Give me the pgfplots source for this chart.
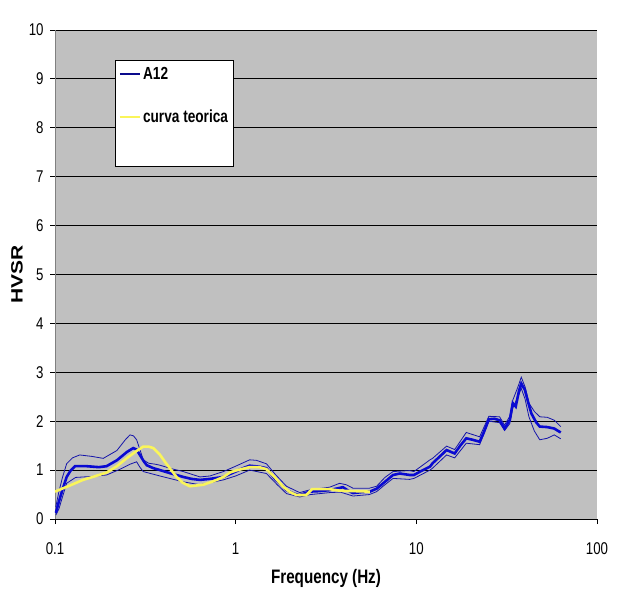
\documentclass[border=0pt]{standalone}
\usepackage{fontspec}
\setmainfont{Liberation Sans}[FakeStretch=0.78]
\newfontfamily\ylabfont{Liberation Sans}[FakeStretch=1.28]
\usepackage{pgfplots}
\pgfplotsset{compat=1.18}
\definecolor{plotbg}{RGB}{192,192,192}
\definecolor{mainblue}{RGB}{10,10,210}
\definecolor{thinblue}{RGB}{20,20,170}
\definecolor{legblue}{RGB}{10,10,140}
\definecolor{teoyel}{RGB}{250,245,90}
\begin{document}
\begin{tikzpicture}
\begin{axis}[
  scale only axis, width=542bp, height=489bp,
  xmode=log, xmin=0.1, xmax=100, ymin=0, ymax=10,
  xtick={0.1,1,10,100}, xticklabels={0.1,1,10,100},
  ytick={0,1,...,10},
  xminorticks=false,
  axis x line*=bottom, axis y line*=left,
  x axis line style={black, line width=0.8bp, -},
  y axis line style={gray, line width=0.8bp, -},
  axis background/.style={fill=plotbg},
  ymajorgrids, grid style={black, line width=0.9bp},
  tick align=outside, major tick length=5bp,
  tick style={black, line width=0.8bp},
  /pgf/number format/assume math mode=true,
  ticklabel style={font=\fontsize{17bp}{19bp}\selectfont},
  xticklabel style={yshift=-15bp},
  yticklabel style={xshift=-3bp},
  xlabel={Frequency (Hz)}, ylabel={HVSR},
  xlabel style={font=\bfseries\fontsize{19.5bp}{23bp}\selectfont, at={(axis description cs:0.5,-0.121)}, anchor=center},
  ylabel style={font=\ylabfont\bfseries\fontsize{16.4bp}{20bp}\selectfont, at={(axis description cs:-0.070,0.5)}, anchor=center},
  legend style={at={(axis description cs:0.111,0.939)}, anchor=north west,
    draw=black, line width=0.8bp, fill=white, font=\bfseries\fontsize{17.5bp}{20bp}\selectfont,
    row sep=25bp, inner xsep=3bp, inner ysep=5bp, nodes={inner sep=2bp}},
  legend cell align=left,
  legend image code/.code={\draw[#1] (0bp,0bp) -- (20bp,0bp);},
]
\addlegendimage{legblue, line width=2.5bp}
\addlegendentry{A12}
\addlegendimage{teoyel, line width=2.5bp}
\addlegendentry{curva teorica}
\addlegendimage{empty legend}
\addlegendentry{\rule{0pt}{5bp}}

% upper thin
\addplot[thinblue, line width=0.8bp, forget plot] table {
0.101 0.25
0.105 0.55
0.11 0.85
0.116 1.13
0.125 1.25
0.137 1.31
0.16 1.28
0.185 1.24
0.22 1.40
0.245 1.62
0.26 1.72
0.272 1.70
0.283 1.62
0.295 1.42
0.308 1.21
0.33 1.14
0.36 1.12
0.381 1.10
0.44 1.03
0.513 0.97
0.635 0.86
0.72 0.88
0.855 0.97
1.0 1.08
1.195 1.21
1.3 1.20
1.48 1.13
1.65 0.92
1.91 0.67
2.26 0.54
2.6 0.60
3.31 0.65
3.76 0.73
4.1 0.70
4.46 0.63
5.5 0.63
6.03 0.67
6.7 0.85
7.43 0.97
9.18 0.99
9.7 0.97
11.9 1.21
12.3 1.24
14.7 1.49
16.3 1.42
18.9 1.77
22.4 1.68
25.2 2.10
28.9 2.09
30.8 1.92
32.9 2.10
34.2 2.43
36.5 2.70
38.1 2.90
40 2.70
42 2.37
45 2.20
48.2 2.09
53 2.08
58 2.02
63 1.89
};
% lower thin
\addplot[thinblue, line width=0.8bp, forget plot] table {
0.101 0.08
0.105 0.2
0.11 0.45
0.116 0.73
0.13 0.85
0.16 0.87
0.193 0.90
0.23 1.02
0.26 1.12
0.283 1.17
0.295 1.06
0.308 0.97
0.381 0.88
0.513 0.76
0.635 0.70
0.855 0.80
1.0 0.88
1.195 1.00
1.48 0.93
1.7 0.70
1.91 0.52
2.26 0.45
2.6 0.50
3.31 0.54
3.8 0.55
4.46 0.47
5.5 0.50
6.03 0.56
6.7 0.70
7.43 0.83
9.18 0.81
9.7 0.83
11.9 1.00
12.3 1.04
14.7 1.31
16.3 1.25
18.9 1.55
22.4 1.52
25.2 2.00
28.9 1.97
30.8 1.81
32.9 1.95
34.2 2.27
36.5 2.50
38.1 2.67
40 2.45
42 2.09
45 1.80
48.2 1.62
53 1.65
58 1.72
63 1.64
};
% A12 mean
\addplot[mainblue, line width=2.6bp, forget plot] table {
0.101 0.12
0.105 0.35
0.11 0.6
0.116 0.86
0.122 0.99
0.129 1.08
0.15 1.08
0.175 1.06
0.193 1.08
0.22 1.2
0.25 1.37
0.271 1.45
0.283 1.42
0.295 1.31
0.31 1.18
0.322 1.10
0.35 1.04
0.381 1.00
0.44 0.93
0.513 0.86
0.57 0.82
0.635 0.80
0.72 0.82
0.855 0.86
1.0 0.97
1.1 1.04
1.195 1.09
1.35 1.07
1.48 1.04
1.65 0.82
1.91 0.59
2.1 0.52
2.26 0.49
2.57 0.56
2.9 0.57
3.31 0.59
3.6 0.62
3.92 0.65
4.2 0.58
4.46 0.53
5.0 0.55
5.53 0.56
6.03 0.62
6.7 0.76
7.43 0.90
8.1 0.93
9.2 0.90
9.7 0.90
10.5 0.97
11.9 1.07
12.3 1.14
13.5 1.28
14.7 1.41
16.3 1.34
17.5 1.50
18.9 1.65
20.5 1.62
22.4 1.58
23.5 1.75
25.2 2.04
27 2.05
28.9 2.02
30.8 1.85
32.9 2.02
34.2 2.37
35.5 2.30
37 2.62
38.1 2.77
39.9 2.64
41.5 2.40
43.3 2.16
46 1.98
48.2 1.89
53 1.88
58 1.85
61 1.80
63 1.77
};
% curva teorica
\addplot[teoyel, line width=2.6bp, forget plot] table {
0.1 0.56
0.12 0.68
0.143 0.80
0.165 0.87
0.193 0.95
0.22 1.08
0.249 1.24
0.28 1.38
0.308 1.48
0.33 1.48
0.35 1.45
0.38 1.32
0.406 1.17
0.44 1.00
0.471 0.86
0.51 0.74
0.558 0.67
0.661 0.70
0.75 0.77
0.855 0.86
0.93 0.95
1.0 0.99
1.19 1.06
1.35 1.06
1.48 1.02
1.65 0.85
1.83 0.66
2.0 0.55
2.17 0.49
2.46 0.49
2.65 0.61
3.31 0.61
3.76 0.58
4.5 0.57
5.53 0.56
};
\end{axis}
\pgfresetboundingbox
\useasboundingbox (current axis.south west) ++(-55bp,-79bp) rectangle ++(624bp,598bp);
\end{tikzpicture}
\end{document}
